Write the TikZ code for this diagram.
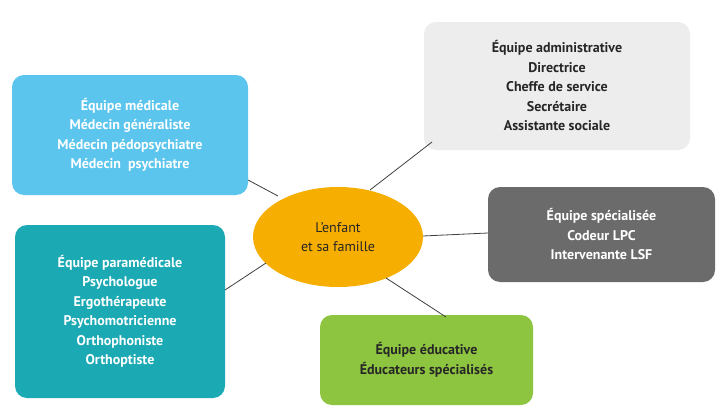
\documentclass[tikz,border=0pt]{standalone}
\usepackage{fontspec}
\setmainfont{PT Sans}
\usetikzlibrary{shapes.geometric}
\definecolor{cmed}{HTML}{5BC5EE}
\definecolor{cadm}{HTML}{EDEDED}
\definecolor{cspe}{HTML}{6B6B6B}
\definecolor{cpar}{HTML}{1BA9B4}
\definecolor{cedu}{HTML}{8EC540}
\definecolor{corg}{HTML}{F6AE00}
\begin{document}
\begin{tikzpicture}[x=1pt,y=-1pt,
  box/.style={rounded corners=12pt,align=center,font=\bfseries\fontsize{14}{19.5}\selectfont,inner sep=0pt},
  link/.style={draw=black!75,line width=0.8pt}]
\useasboundingbox (0,0) rectangle (720,415);
\fill[white] (0,0) rectangle (720,415);
\node[box,fill=cmed,text=white,minimum width=236pt,minimum height=120pt] (med) at (130,135) {Équipe médicale\\Médecin généraliste\\Médecin pédopsychiatre\\Médecin\ \ psychiatre};
\node[box,fill=cadm,text=black!85,minimum width=266pt,minimum height=128pt] (adm) at (557,86) {Équipe administrative\\Directrice\\Cheffe de service\\Secrétaire\\Assistante sociale};
\node[box,fill=cspe,text=white,minimum width=227pt,minimum height=95pt] (spe) at (601.5,234.5) {Équipe spécialisée\\Codeur LPC\\Intervenante LSF};
\node[box,fill=cpar,text=white,minimum width=210pt,minimum height=173pt] (par) at (120,311.5) {Équipe paramédicale\\Psychologue\\Ergothérapeute\\Psychomotricienne\\Orthophoniste\\Orthoptiste};
\node[box,fill=cedu,text=black!85,minimum width=213pt,minimum height=90pt] (edu) at (426.5,360) {Équipe éducative\\Éducateurs spécialisés};
\node[ellipse,fill=corg,minimum width=170pt,minimum height=100pt,align=center,font=\fontsize{14}{19.5}\selectfont,text=black!85] (c) at (338,237) {L’enfant\\et sa famille};
\draw[link] (248,180) -- (278,196);
\draw[link] (370,190) -- (432,142);
\draw[link] (423,236) -- (488,233);
\draw[link] (225,290) -- (266,263);
\draw[link] (386,278) -- (446,317);
\end{tikzpicture}
\end{document}
